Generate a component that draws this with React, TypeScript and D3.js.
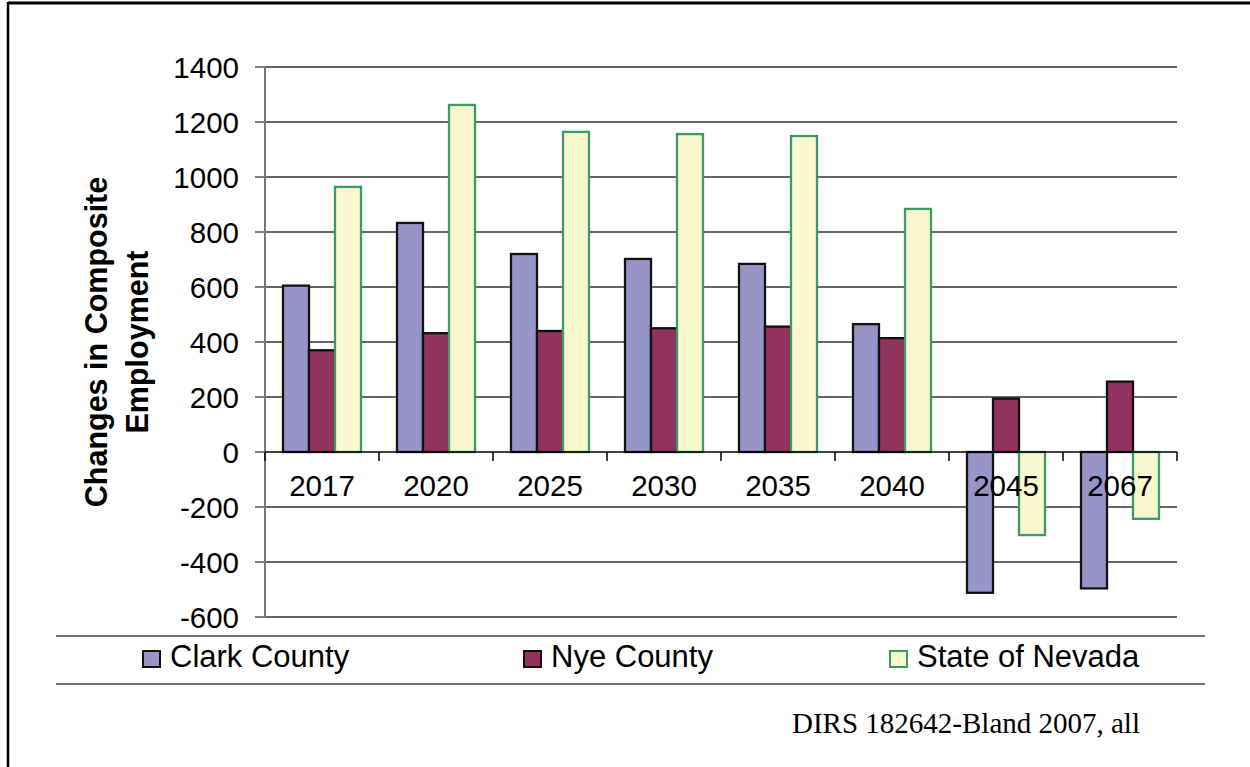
import React from "react";
import * as d3 from "d3";

const categories = ["2017", "2020", "2025", "2030", "2035", "2040", "2045", "2067"];
const clarkCounty = [605, 833, 720, 702, 684, 465, -512, -496];
const nyeCounty = [370, 432, 440, 450, 456, 414, 194, 256];
const stateOfNevada = [964, 1262, 1164, 1156, 1149, 884, -302, -243];
const yTicks = [-600, -400, -200, 0, 200, 400, 600, 800, 1000, 1200, 1400];
const seriesNames = ["Clark County", "Nye County", "State of Nevada"];

const seriesStyles = [
  { fill: "#9794c8", stroke: "#111" },
  { fill: "#92335e", stroke: "#111" },
  { fill: "#faf7cf", stroke: "#3a9a68" },
];

export default function App() {
  const W = 1250;
  const H = 767;
  const left = 265;
  const right = 1177;
  const top = 67;
  const bottom = 617;

  const x = d3.scaleBand<string>().domain(categories).range([left, right]).paddingInner(0).paddingOuter(0);
  const y = d3.scaleLinear().domain([-600, 1400]).range([bottom, top]);
  const bw = x.bandwidth();
  const barW = 26;
  const groupW = barW * 3;
  const series = [clarkCounty, nyeCounty, stateOfNevada];
  const font = "'Liberation Sans', Arial, sans-serif";

  const legendX = [143, 524, 890];

  return (
    <svg width={W} height={H} style={{ position: "absolute", left: 0, top: 0, background: "#fff" }}>
      {/* outer frame */}
      <line x1={8} y1={3} x2={W} y2={3} stroke="#000" strokeWidth={3} />
      <line x1={8} y1={2} x2={8} y2={H} stroke="#000" strokeWidth={2.5} />

      {/* gridlines */}
      {yTicks.map((t) =>
        t === 0 ? null : (
          <line key={"g" + t} x1={left} x2={right} y1={y(t)} y2={y(t)} stroke="#333" strokeWidth={1.5} />
        )
      )}
      {/* y tick marks & labels */}
      {yTicks.map((t) => (
        <g key={"t" + t}>
          <line x1={left - 10} x2={left} y1={y(t)} y2={y(t)} stroke="#555" strokeWidth={1.5} />
          <text x={239} y={y(t)} dy="0.36em" textAnchor="end" fontFamily={font} fontSize={29.5} fill="#000">
            {t}
          </text>
        </g>
      ))}

      {/* bars */}
      {categories.map((c, i) => {
        const x0 = (x(c) as number) + (bw - groupW) / 2;
        return series.map((s, j) => {
          const v = s[i];
          const y0 = y(Math.max(0, v));
          const h = Math.abs(y(v) - y(0));
          return (
            <rect
              key={c + j}
              x={x0 + j * barW}
              y={y0}
              width={barW}
              height={h}
              fill={seriesStyles[j].fill}
              stroke={seriesStyles[j].stroke}
              strokeWidth={2.3}
            />
          );
        });
      })}

      {/* y axis */}
      <line x1={left} x2={left} y1={top} y2={bottom} stroke="#777" strokeWidth={2} />
      {/* x axis at zero */}
      <line x1={left} x2={right} y1={y(0)} y2={y(0)} stroke="#000" strokeWidth={1.5} />
      {d3.range(categories.length + 1).map((k) => (
        <line key={"xt" + k} x1={left + k * bw} x2={left + k * bw} y1={y(0)} y2={y(0) + 9} stroke="#000" strokeWidth={1.5} />
      ))}
      {categories.map((c) => (
        <text key={"xl" + c} x={(x(c) as number) + bw / 2} y={496} textAnchor="middle" fontFamily={font} fontSize={29.5} fill="#000">
          {c}
        </text>
      ))}

      {/* y axis title */}
      <text transform={`translate(107,342) rotate(-90)`} textAnchor="middle" fontFamily={font} fontWeight="bold" fontSize={30.5} fill="#000">
        Changes in Composite
      </text>
      <text transform={`translate(148,342) rotate(-90)`} textAnchor="middle" fontFamily={font} fontWeight="bold" fontSize={30.5} fill="#000">
        Employment
      </text>

      {/* legend */}
      <line x1={56} x2={1205} y1={636} y2={636} stroke="#444" strokeWidth={1.5} />
      <line x1={56} x2={1205} y1={684} y2={684} stroke="#444" strokeWidth={1.5} />
      {seriesNames.map((n, j) => (
        <g key={"lg" + n}>
          <rect x={legendX[j]} y={651} width={17} height={16} fill={seriesStyles[j].fill} stroke={seriesStyles[j].stroke} strokeWidth={2} />
          <text x={legendX[j] + 27} y={667} fontFamily={font} fontSize={31} fill="#000">
            {n}
          </text>
        </g>
      ))}

      {/* footer */}
      <text x={792} y={733} fontFamily="'Liberation Serif', 'Times New Roman', serif" fontSize={29} fill="#000">
        DIRS 182642-Bland 2007, all
      </text>
    </svg>
  );
}
